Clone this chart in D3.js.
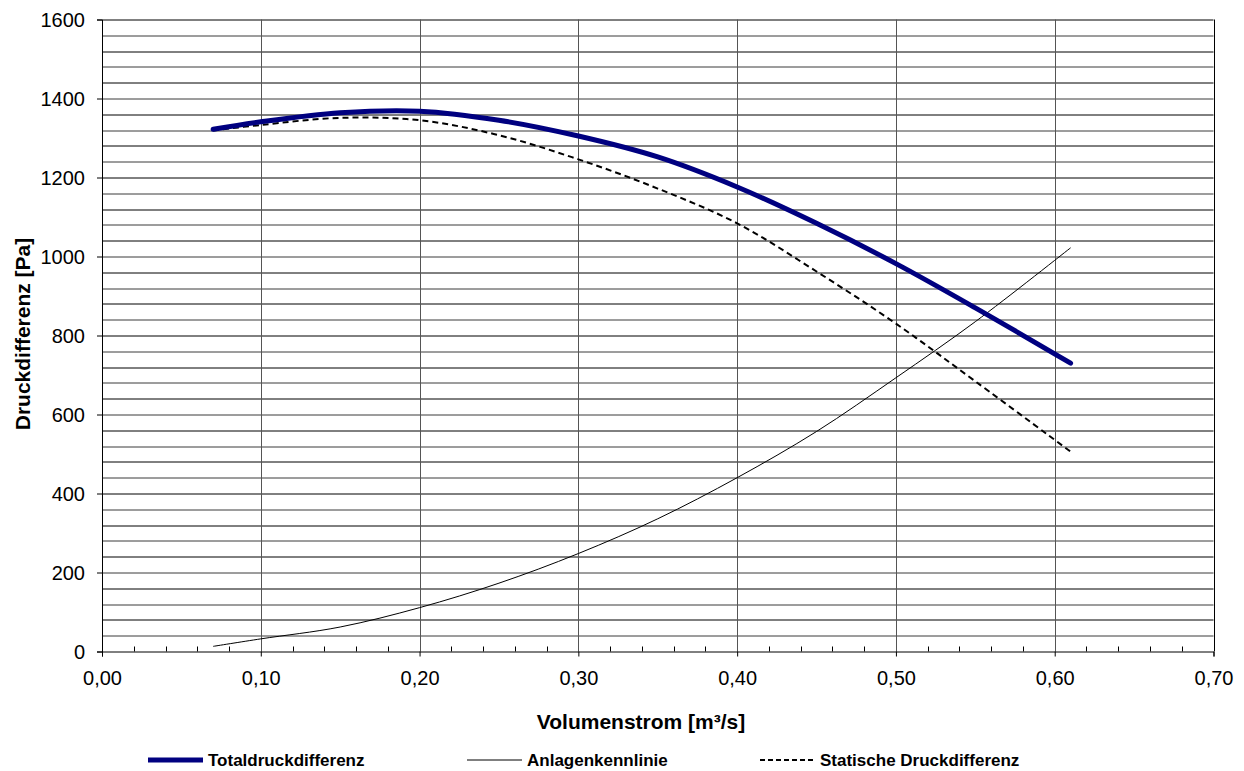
<!DOCTYPE html>
<html>
<head>
<meta charset="utf-8">
<script src="https://cdn.jsdelivr.net/npm/d3@7"></script>
<style>
  body { margin: 0; background: #fff; }
  svg { font-family: "Liberation Sans", Arial, sans-serif; }
</style>
</head>
<body>
<div id="chart"></div>
<script>
// values
var flow = [0.07, 0.10, 0.15, 0.20, 0.25, 0.30, 0.35, 0.40, 0.45, 0.50, 0.55, 0.61];
var totalPressure = [1322, 1341, 1364, 1368, 1345, 1305, 1252, 1176, 1084, 982, 870, 730];
var staticPressure = [1319, 1333, 1351, 1345, 1307, 1246, 1172, 1084, 962, 830, 684, 506];
var systemCurve = [13, 32, 62, 111, 173, 248, 336, 440, 557, 693, 835, 1022];

var xTicks = [0, 0.1, 0.2, 0.3, 0.4, 0.5, 0.6, 0.7];
var yTicks = [0, 200, 400, 600, 800, 1000, 1200, 1400, 1600];
var seriesNames = ["Totaldruckdifferenz", "Anlagenkennlinie", "Statische Druckdifferenz"];

// chart dimensions
var W = 1244, H = 771;
var margin = {top: 19.5, right: 30.5, bottom: 119.5, left: 102};
var width = W - margin.left - margin.right;
var height = H - margin.top - margin.bottom;

var xScale = d3.scaleLinear().domain([0, 0.7]).range([0, width]);
var yScale = d3.scaleLinear().domain([0, 1600]).range([height, 0]);

var svg = d3.select("#chart").append("svg")
    .attr("width", W)
    .attr("height", H);

var g = svg.append("g")
    .attr("transform", "translate(" + margin.left + "," + margin.top + ")");

// horizontal grid every 40 Pa
g.append("g")
    .attr("class", "grid-y")
  .selectAll("line")
    .data(d3.range(40, 1601, 40))
  .enter().append("line")
    .attr("x1", 0).attr("x2", width)
    .attr("y1", function(d) { return Math.round(yScale(d)) + 0.5; })
    .attr("y2", function(d) { return Math.round(yScale(d)) + 0.5; })
    .attr("stroke", function(d, i) { return i % 2 ? "#000" : "#3a3a3a"; })
    .attr("stroke-width", 1);

// vertical grid every 0.1
g.append("g")
    .attr("class", "grid-x")
  .selectAll("line")
    .data(xTicks.slice(1))
  .enter().append("line")
    .attr("x1", function(d) { return Math.round(xScale(d)) + 0.5; })
    .attr("x2", function(d) { return Math.round(xScale(d)) + 0.5; })
    .attr("y1", 0).attr("y2", height)
    .attr("stroke", function(d) { return d === 0.7 ? "#000" : "#555"; })
    .attr("stroke-width", 1);

// minor x ticks (inside, every 0.02)
g.append("g")
  .selectAll("line")
    .data(d3.range(1, 35).map(function(i) { return i * 0.02; }).filter(function(d, i) { return (i + 1) % 5 !== 0; }))
  .enter().append("line")
    .attr("x1", function(d) { return Math.round(xScale(d)) + 0.5; })
    .attr("x2", function(d) { return Math.round(xScale(d)) + 0.5; })
    .attr("y1", height).attr("y2", height - 5)
    .attr("stroke", "#000");

var xAxis = d3.axisBottom(xScale)
    .tickValues(xTicks)
    .tickSize(5)
    .tickPadding(14)
    .tickFormat(function(d) { return d3.format(".2f")(d).replace(".", ","); });

var yAxis = d3.axisLeft(yScale)
    .tickValues(yTicks)
    .tickSize(5)
    .tickPadding(12)
    .tickFormat(function(d) { return d; });

var gX = g.append("g")
    .attr("transform", "translate(0," + height + ")")
    .call(xAxis);

var gY = g.append("g")
    .call(yAxis);

[gX, gY].forEach(function(ax) {
  ax.select(".domain").attr("stroke", "#000");
  ax.selectAll(".tick line").attr("stroke", "#000");
  ax.selectAll(".tick text")
    .attr("fill", "#000")
    .style("font-family", "'Liberation Sans', Arial, sans-serif")
    .style("font-size", "20px");
});
gY.selectAll(".tick text").attr("dy", "0.35em");

// the three curves
var line = d3.line()
    .x(function(d) { return xScale(d[0]); })
    .y(function(d) { return yScale(d[1]); })
    .curve(d3.curveCatmullRom);

function pairs(vals) {
  return flow.map(function(f, i) { return [f, vals[i]]; });
}

g.append("path")
    .datum(pairs(systemCurve))
    .attr("fill", "none")
    .attr("stroke", "#000")
    .attr("stroke-width", 1)
    .attr("d", line);

g.append("path")
    .datum(pairs(staticPressure))
    .attr("fill", "none")
    .attr("stroke", "#000")
    .attr("stroke-width", 2)
    .attr("stroke-dasharray", "6,4")
    .attr("d", line);

g.append("path")
    .datum(pairs(totalPressure))
    .attr("fill", "none")
    .attr("stroke", "#000080")
    .attr("stroke-width", 5)
    .attr("stroke-linecap", "round")
    .attr("d", line);

// axis titles
svg.append("text")
    .attr("x", 641)
    .attr("y", 729)
    .attr("text-anchor", "middle")
    .style("font-size", "21px")
    .style("font-weight", "bold")
    .text("Volumenstrom [m³/s]");

svg.append("text")
    .attr("transform", "translate(30,334) rotate(-90)")
    .attr("text-anchor", "middle")
    .style("font-size", "21px")
    .style("font-weight", "bold")
    .text("Druckdifferenz [Pa]");

// legend
var legendX = [148, 467, 760];
var legendStyles = [
  {stroke: "#000080", width: 5, dash: null},
  {stroke: "#000", width: 1, dash: null},
  {stroke: "#000", width: 2, dash: "5,3"}
];
var legend = svg.append("g").attr("transform", "translate(0,760)");
var item = legend.selectAll("g")
    .data(seriesNames)
  .enter().append("g")
    .attr("transform", function(d, i) { return "translate(" + legendX[i] + ",0)"; });

item.append("line")
    .attr("x1", 0).attr("x2", 55)
    .attr("y1", 0).attr("y2", 0)
    .attr("stroke", function(d, i) { return legendStyles[i].stroke; })
    .attr("stroke-width", function(d, i) { return legendStyles[i].width; })
    .attr("stroke-dasharray", function(d, i) { return legendStyles[i].dash; });

item.append("text")
    .attr("x", 60)
    .attr("dy", "0.35em")
    .style("font-size", "17px")
    .style("font-weight", "bold")
    .text(function(d) { return d; });
</script>
</body>
</html>
